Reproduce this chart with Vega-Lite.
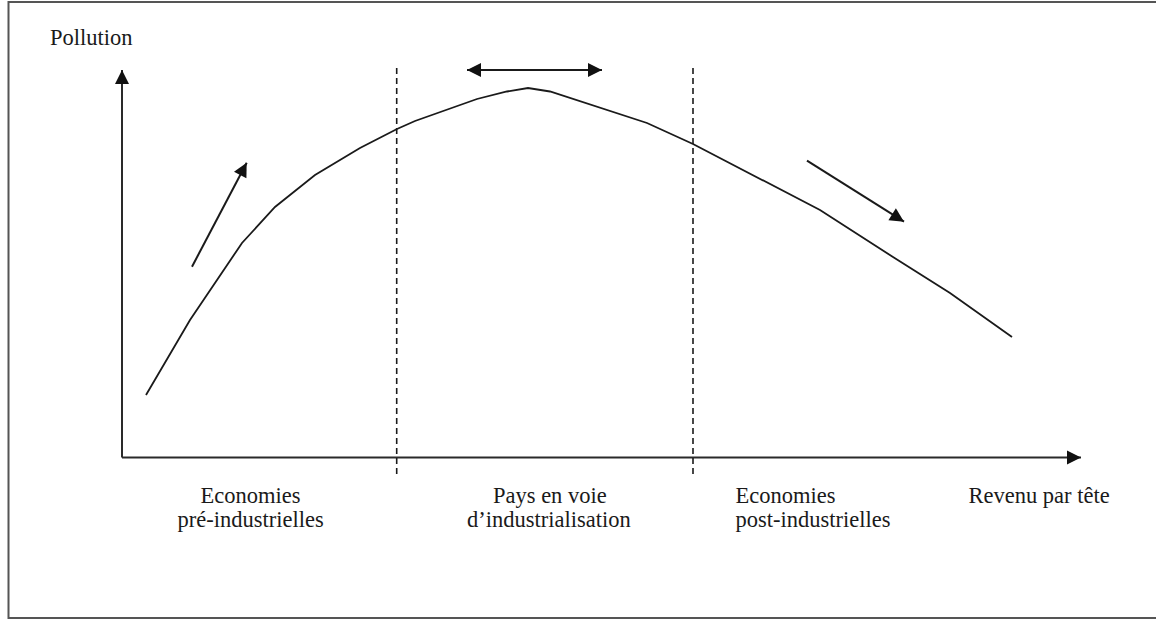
{
  "$schema": "https://vega.github.io/schema/vega-lite/v6.json",
  "width": 1156,
  "height": 620,
  "autosize": {"type": "fit", "contains": "padding"},
  "padding": 0,
  "background": "white",
  "config": {"view": {"stroke": null}},
  "datasets": {
    "frame": [{"x": -11.35, "x2": 104.5, "y": 45.55, "y2": -16.05}],
    "curve": [
      {"revenu": 2.4, "pollution": 6.25},
      {"revenu": 6.8, "pollution": 13.75},
      {"revenu": 12.0, "pollution": 21.45},
      {"revenu": 15.3, "pollution": 25.05},
      {"revenu": 19.3, "pollution": 28.25},
      {"revenu": 23.8, "pollution": 30.95},
      {"revenu": 27.5, "pollution": 32.85},
      {"revenu": 29.3, "pollution": 33.65},
      {"revenu": 35.5, "pollution": 35.85},
      {"revenu": 38.5, "pollution": 36.6},
      {"revenu": 40.6, "pollution": 36.95},
      {"revenu": 42.8, "pollution": 36.6},
      {"revenu": 52.5, "pollution": 33.45},
      {"revenu": 57.1, "pollution": 31.35},
      {"revenu": 69.8, "pollution": 24.75},
      {"revenu": 77.1, "pollution": 20.05},
      {"revenu": 82.8, "pollution": 16.45},
      {"revenu": 89.0, "pollution": 12.05}
    ],
    "axes": [
      {"id": "pollution", "x": 0, "y": 0, "x2": 0, "y2": 38.75},
      {"id": "revenu", "x": 0, "y": 0, "x2": 95.9, "y2": 0}
    ],
    "dividers": [
      {"x": 27.47, "y": 38.95, "y2": -1.95},
      {"x": 57.1, "y": 38.95, "y2": -1.95}
    ],
    "arrows": [
      {"id": "hausse", "x": 7.0, "y": 19.08, "x2": 12.47, "y2": 29.48},
      {"id": "baisse", "x": 68.5, "y": 29.68, "x2": 78.2, "y2": 23.58},
      {"id": "plage", "x": 34.5, "y": 38.75, "x2": 48.0, "y2": 38.75}
    ],
    "heads": [
      {"id": "pollution", "x": 0, "y": 38.75},
      {"id": "revenu", "x": 95.9, "y": 0},
      {"id": "plage-droite", "x": 48.0, "y": 38.75},
      {"id": "plage-gauche", "x": 34.5, "y": 38.75},
      {"id": "hausse", "x": 12.47, "y": 29.48},
      {"id": "baisse", "x": 78.2, "y": 23.58}
    ],
    "labels": [
      {"label": "Pollution", "x": -7.2, "y": 41.25},
      {"label": "Economies", "x": 7.85, "y": -4.55},
      {"label": "pré-industrielles", "x": 5.55, "y": -6.95},
      {"label": "Pays en voie", "x": 37.1, "y": -4.55},
      {"label": "d’industrialisation", "x": 34.5, "y": -6.95},
      {"label": "Economies", "x": 61.35, "y": -4.55},
      {"label": "post-industrielles", "x": 61.35, "y": -6.95},
      {"label": "Revenu par tête", "x": 84.65, "y": -4.55}
    ]
  },
  "layer": [
    {
      "data": {"name": "frame"},
      "mark": {"type": "rect", "filled": false, "stroke": "#555555", "strokeWidth": 2, "clip": true},
      "encoding": {
        "x": {"field": "x", "type": "quantitative", "scale": {"domain": [-12.2, 103.4], "nice": false, "zero": false}, "axis": null},
        "x2": {"field": "x2"},
        "y": {"field": "y", "type": "quantitative", "scale": {"domain": [-16.25, 45.75], "nice": false, "zero": false}, "axis": null},
        "y2": {"field": "y2"}
      }
    },
    {
      "data": {"name": "axes"},
      "mark": {"type": "rule", "color": "#2a2a2a", "strokeWidth": 2},
      "encoding": {
        "x": {"field": "x", "type": "quantitative"},
        "x2": {"field": "x2"},
        "y": {"field": "y", "type": "quantitative"},
        "y2": {"field": "y2"}
      }
    },
    {
      "data": {"name": "dividers"},
      "mark": {"type": "rule", "color": "#1a1a1a", "strokeWidth": 1.6, "strokeDash": [6, 4]},
      "encoding": {
        "x": {"field": "x", "type": "quantitative"},
        "y": {"field": "y", "type": "quantitative"},
        "y2": {"field": "y2"}
      }
    },
    {
      "data": {"name": "curve"},
      "mark": {"type": "line", "color": "#1a1a1a", "strokeWidth": 1.8, "interpolate": "linear"},
      "encoding": {
        "x": {"field": "revenu", "type": "quantitative"},
        "y": {"field": "pollution", "type": "quantitative"}
      }
    },
    {
      "data": {"name": "arrows"},
      "mark": {"type": "rule", "color": "#1a1a1a", "strokeWidth": 2},
      "encoding": {
        "x": {"field": "x", "type": "quantitative"},
        "x2": {"field": "x2"},
        "y": {"field": "y", "type": "quantitative"},
        "y2": {"field": "y2"}
      }
    },
    {
      "data": {"name": "heads"},
      "transform": [{"filter": "datum.id === 'pollution'"}],
      "mark": {"type": "point", "shape": "M0,0L1,2L-1,2Z", "size": 196, "filled": true, "color": "#111111", "opacity": 1, "angle": 0},
      "encoding": {"x": {"field": "x", "type": "quantitative"}, "y": {"field": "y", "type": "quantitative"}}
    },
    {
      "data": {"name": "heads"},
      "transform": [{"filter": "datum.id === 'revenu' || datum.id === 'plage-droite'"}],
      "mark": {"type": "point", "shape": "M0,0L1,2L-1,2Z", "size": 196, "filled": true, "color": "#111111", "opacity": 1, "angle": 90},
      "encoding": {"x": {"field": "x", "type": "quantitative"}, "y": {"field": "y", "type": "quantitative"}}
    },
    {
      "data": {"name": "heads"},
      "transform": [{"filter": "datum.id === 'plage-gauche'"}],
      "mark": {"type": "point", "shape": "M0,0L1,2L-1,2Z", "size": 196, "filled": true, "color": "#111111", "opacity": 1, "angle": 270},
      "encoding": {"x": {"field": "x", "type": "quantitative"}, "y": {"field": "y", "type": "quantitative"}}
    },
    {
      "data": {"name": "heads"},
      "transform": [{"filter": "datum.id === 'hausse'"}],
      "mark": {"type": "point", "shape": "M0,0L1,2L-1,2Z", "size": 196, "filled": true, "color": "#111111", "opacity": 1, "angle": 27.7},
      "encoding": {"x": {"field": "x", "type": "quantitative"}, "y": {"field": "y", "type": "quantitative"}}
    },
    {
      "data": {"name": "heads"},
      "transform": [{"filter": "datum.id === 'baisse'"}],
      "mark": {"type": "point", "shape": "M0,0L1,2L-1,2Z", "size": 196, "filled": true, "color": "#111111", "opacity": 1, "angle": 122.2},
      "encoding": {"x": {"field": "x", "type": "quantitative"}, "y": {"field": "y", "type": "quantitative"}}
    },
    {
      "data": {"name": "labels"},
      "mark": {"type": "text", "align": "left", "baseline": "alphabetic", "font": "Liberation Serif", "fontSize": 22.5, "color": "#1a1a1a"},
      "encoding": {
        "x": {"field": "x", "type": "quantitative"},
        "y": {"field": "y", "type": "quantitative"},
        "text": {"field": "label"}
      }
    }
  ]
}
